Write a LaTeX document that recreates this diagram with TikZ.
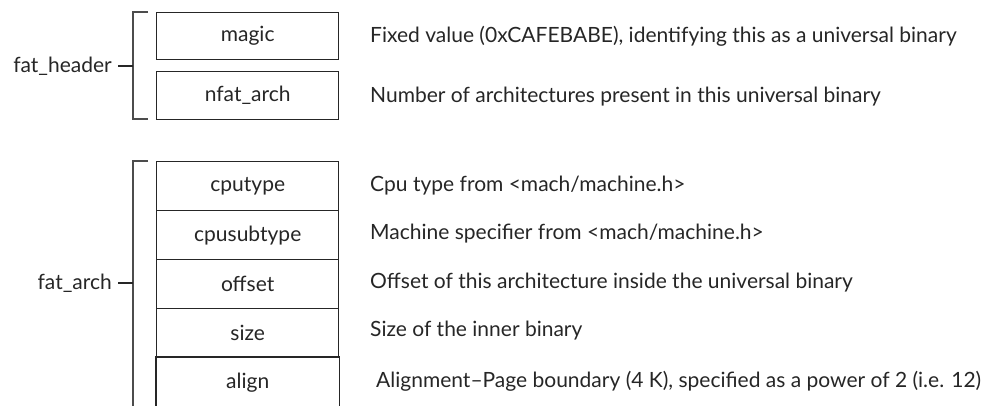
\documentclass[tikz,border=0pt]{standalone}
\usepackage{fontspec}
\setmainfont{Lato}
\begin{document}
\begin{tikzpicture}[x=1pt,y=-1pt,
  every node/.style={font=\fontsize{21}{24}\selectfont, text=black!85, inner sep=0pt},
  field/.style={draw=black!85, line width=1.4pt, minimum width=182pt, minimum height=#1, anchor=north west},
  field/.default=49pt,
  desc/.style={anchor=west},
  brace/.style={draw=black!70, line width=1.3pt},
  tick/.style={draw=black!85, line width=1.1pt}]
\useasboundingbox (0,0) rectangle (989,405);

% fat_header fields
\node[field=47pt] (magic) at (156,12) {magic};
\node[field=48pt] (nfat) at (156,71) {nfat\_arch};

% fat_arch fields
\node[field] (cputype) at (156,161) {cputype};
\node[field] (cpusub) at (156,210) {cpusubtype};
\node[field] (offset) at (156,259) {offset};
\node[field] (size) at (156,308) {size};
\node[field, draw=none] (align) at (156,357) {align};
\draw[black!85, line width=1.4pt] (align.south west) -- (align.north west) -- (align.north east) -- (align.south east);

% descriptions
\node[desc] (dmagic) at (370,36) {Fixed value (0xCAFEBABE), identifying this as a universal binary};
\node[desc] (dnfat) at (370,97) {Number of architectures present in this universal binary};
\node[desc] (dcpu) at (370,186) {Cpu type from <mach/machine.h>};
\node[desc] (dsub) at (370,234) {Machine specifier from <mach/machine.h>};
\node[desc] (doff) at (370,283) {Offset of this architecture inside the universal binary};
\node[desc] (dsize) at (370,331) {Size of the inner binary};
\node[desc] (dalign) at (376,381) {Alignment–Page boundary (4~K), specified as a power of 2 (i.e. 12)};

% group brackets
\coordinate (hb1) at (148,12);
\coordinate (hb2) at (133,12);
\coordinate (hb3) at (133,119);
\coordinate (hb4) at (148,119);
\draw[brace] (hb1) -- (hb2) -- (hb3) -- (hb4);
\coordinate (ab1) at (148,161);
\coordinate (ab2) at (133,161);
\coordinate (ab3) at (133,410);
\draw[brace] (ab1) -- (ab2) -- (ab3);

% group labels
\node[anchor=east] (hdr) at (112,66) {fat\_header};
\coordinate (hdrtick) at (133,66);
\draw[tick] ([xshift=6pt]hdr.east) -- (hdrtick);
\node[anchor=east] (arch) at (112,283) {fat\_arch};
\coordinate (archtick) at (133,283);
\draw[tick] ([xshift=6pt]arch.east) -- (archtick);
\end{tikzpicture}
\end{document}
